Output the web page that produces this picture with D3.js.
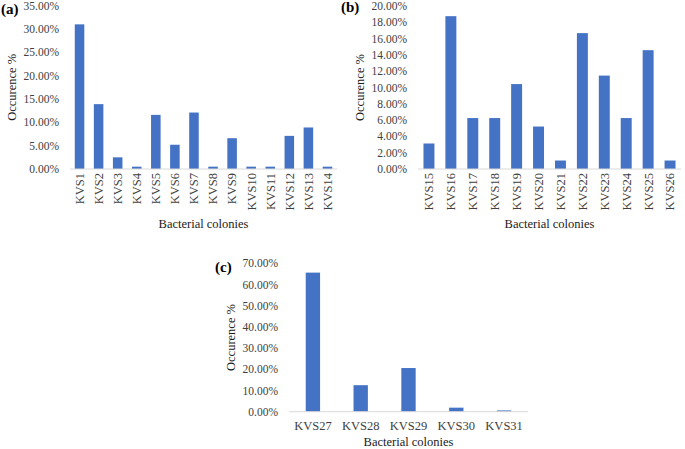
<!DOCTYPE html>
<html>
<head>
<meta charset="utf-8">
<script src="https://cdn.jsdelivr.net/npm/d3@7"></script>
<style>
  body { margin: 0; background: #fff; }
</style>
</head>
<body>
<div class="chart"></div>
<script>
// panel (a)
const catsA = ["KVS1","KVS2","KVS3","KVS4","KVS5","KVS6","KVS7","KVS8","KVS9","KVS10","KVS11","KVS12","KVS13","KVS14"];
const valsA = [31.0, 13.9, 2.5, 0.5, 11.6, 5.2, 12.1, 0.5, 6.6, 0.5, 0.5, 7.1, 8.9, 0.5];
const ticksA = [0, 5, 10, 15, 20, 25, 30, 35];

// panel (b)
const catsB = ["KVS15","KVS16","KVS17","KVS18","KVS19","KVS20","KVS21","KVS22","KVS23","KVS24","KVS25","KVS26"];
const valsB = [3.13, 18.75, 6.25, 6.25, 10.42, 5.21, 1.04, 16.67, 11.46, 6.25, 14.58, 1.04];
const ticksB = [0, 2, 4, 6, 8, 10, 12, 14, 16, 18, 20];

// panel (c)
const catsC = ["KVS27","KVS28","KVS29","KVS30","KVS31"];
const valsC = [65.6, 12.5, 20.6, 1.9, 0.6];
const ticksC = [0, 10, 20, 30, 40, 50, 60, 70];

const barColor = "#4472c4";
const serif = "'Liberation Serif', 'DejaVu Serif', serif";

const svg = d3.select(".chart").append("svg")
    .attr("width", 685)
    .attr("height", 449)
    .attr("font-family", serif)
    .style("display", "block");

function drawPanel(cfg) {
    const g = svg.append("g");

    const xScale = d3.scaleBand()
        .domain(cfg.cats)
        .range([cfg.x0, cfg.x1])
        .paddingInner(cfg.pad)
        .paddingOuter(cfg.pad / 2);

    const yScale = d3.scaleLinear()
        .domain([0, d3.max(cfg.ticks)])
        .range([cfg.y0, cfg.y1]);

    // bars
    g.selectAll("rect")
        .data(cfg.vals)
        .enter()
        .append("rect")
            .attr("x", (d, i) => xScale(cfg.cats[i]))
            .attr("y", d => yScale(d))
            .attr("width", xScale.bandwidth())
            .attr("height", d => yScale(0) - yScale(d))
            .style("fill", barColor);

    // y tick labels, no axis line
    g.selectAll(".tick-label")
        .data(cfg.ticks)
        .enter()
        .append("text")
            .attr("class", "tick-label")
            .attr("font-family", serif)
            .attr("font-size", 11.5)
            .attr("fill", "#404040")
            .attr("x", cfg.x0 - 11)
            .attr("y", d => yScale(d))
            .attr("dy", "0.35em")
            .attr("text-anchor", "end")
            .text(d => d.toFixed(2) + "%");

    // baseline
    g.append("line")
        .attr("x1", cfg.x0).attr("x2", cfg.x1)
        .attr("y1", yScale(0)).attr("y2", yScale(0))
        .attr("stroke", "#d9d9d9")
        .attr("stroke-width", 1);

    // category labels
    const lab = g.selectAll(".cat-label")
        .data(cfg.cats)
        .enter()
        .append("text")
            .attr("class", "cat-label")
            .attr("font-family", serif)
            .attr("font-size", 12.5)
            .attr("fill", "#404040")
            .text(d => d);
    if (cfg.rotate) {
        lab.attr("text-anchor", "end")
            .attr("dy", "0.35em")
            .attr("transform", d => "translate(" + (xScale(d) + xScale.bandwidth() / 2) + "," + (yScale(0) + 4) + ") rotate(-90)");
    } else {
        lab.attr("text-anchor", "middle")
            .attr("x", d => xScale(d) + xScale.bandwidth() / 2)
            .attr("y", yScale(0) + 18);
    }

    // axis titles
    g.append("text")
        .attr("font-family", serif)
        .attr("font-size", 12.5)
        .attr("fill", "#1a1a1a")
        .attr("text-anchor", "middle")
        .attr("x", (cfg.x0 + cfg.x1) / 2)
        .attr("y", cfg.xTitleY)
        .text("Bacterial colonies");

    g.append("text")
        .attr("font-family", serif)
        .attr("font-size", 12.5)
        .attr("fill", "#1a1a1a")
        .attr("text-anchor", "middle")
        .attr("transform", "translate(" + cfg.yTitleX + "," + (cfg.y0 + cfg.y1) / 2 + ") rotate(-90)")
        .attr("dy", "0.35em")
        .text("Occurence %");

    g.append("text")
        .attr("font-family", serif)
        .attr("font-size", 15)
        .attr("font-weight", "bold")
        .attr("x", cfg.tagX)
        .attr("y", cfg.tagY)
        .text(cfg.tag);
}

drawPanel({cats: catsA, vals: valsA, ticks: ticksA, x0: 70, x1: 337, y0: 169, y1: 5.7, pad: 0.5,
    rotate: true, xTitleY: 228, yTitleX: 12, tag: "(a)", tagX: 1, tagY: 14});
drawPanel({cats: catsB, vals: valsB, ticks: ticksB, x0: 418, x1: 681, y0: 169, y1: 6, pad: 0.5,
    rotate: true, xTitleY: 228, yTitleX: 360, tag: "(b)", tagX: 341, tagY: 12});
drawPanel({cats: catsC, vals: valsC, ticks: ticksC, x0: 289, x1: 528, y0: 411.7, y1: 263.3, pad: 0.7,
    rotate: false, xTitleY: 446, yTitleX: 231, tag: "(c)", tagX: 215, tagY: 272});
</script>
</body>
</html>
